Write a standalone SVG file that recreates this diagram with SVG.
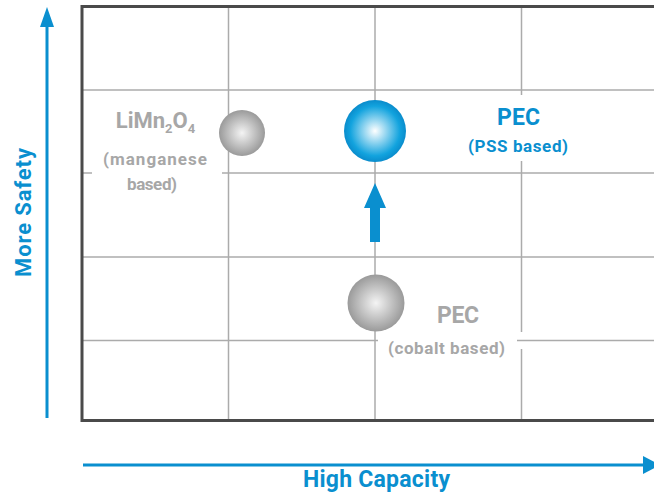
<svg xmlns="http://www.w3.org/2000/svg" width="654" height="493" viewBox="0 0 654 493">
<defs>
<radialGradient id="gray" cx="0.5" cy="0.5" r="0.5">
<stop offset="0" stop-color="#f4f4f4"/>
<stop offset="1" stop-color="#9a9a9a"/>
</radialGradient>
<radialGradient id="blue" cx="0.5" cy="0.5" r="0.5">
<stop offset="0" stop-color="#ffffff"/>
<stop offset="0.8" stop-color="#12a3de"/>
<stop offset="1" stop-color="#0a8ccc"/>
</radialGradient>
<style>
.grid{stroke:#ababab;stroke-width:1.5;fill:none}
.frame{stroke:#4a4a4a;stroke-width:3;fill:none}
.ax{stroke:#0a8fcf;stroke-width:3;fill:none}
.t{font-family:Roboto,"DejaVu Sans",sans-serif;font-weight:bold;text-anchor:middle}
.g{fill:#a7a7a7}
.b{fill:#0a8fcf}
</style>
</defs>
<rect width="654" height="493" fill="#ffffff"/>
<g id="grid">
<line class="grid" x1="228.5" y1="6.5" x2="228.5" y2="420.5"/>
<line class="grid" x1="375" y1="6.5" x2="375" y2="420.5"/>
<line class="grid" x1="521.5" y1="6.5" x2="521.5" y2="95"/>
<line class="grid" x1="521.5" y1="161" x2="521.5" y2="332"/>
<line class="grid" x1="521.5" y1="349" x2="521.5" y2="420.5"/>
<line class="grid" x1="82" y1="90" x2="654" y2="90"/>
<line class="grid" x1="82" y1="173" x2="92" y2="173"/>
<line class="grid" x1="222" y1="173" x2="654" y2="173"/>
<line class="grid" x1="82" y1="257" x2="654" y2="257"/>
<line class="grid" x1="82" y1="340.5" x2="378" y2="340.5"/>
<line class="grid" x1="517" y1="340.5" x2="654" y2="340.5"/>
<path class="frame" d="M660,6.5 H82 V420.5 H660"/>
</g>
<g id="connectors">
<line class="ax" x1="47" y1="418" x2="47" y2="24"/>
<polygon class="b" points="40,27 47,7 54,27"/>
<line class="ax" x1="83" y1="465" x2="646" y2="465"/>
<polygon class="b" points="643,456 660,465 643,474"/>
<polygon class="b" points="370,242 380,242 380,208 386,208 375,183 364,208 370,208"/>
</g>
<g id="node-limn">
<circle cx="242" cy="133" r="23" fill="url(#gray)"/>
<text class="t g" x="155.5" y="128" font-size="22">LiMn<tspan font-size="13" dy="5">2</tspan><tspan dy="-5">O</tspan><tspan font-size="13" dy="5">4</tspan></text>
<text class="t g" x="155" y="165" font-size="17" textLength="104" lengthAdjust="spacing">(manganese</text>
<text class="t g" x="152" y="190" font-size="17" textLength="50" lengthAdjust="spacing">based)</text>
</g>
<g id="node-pss">
<circle cx="375" cy="131" r="31" fill="url(#blue)"/>
<text class="t b" x="518.5" y="125" font-size="23" textLength="43" lengthAdjust="spacing">PEC</text>
<text class="t b" x="518" y="152" font-size="17" textLength="100" lengthAdjust="spacing">(PSS based)</text>
</g>
<g id="node-cobalt">
<circle cx="376" cy="303" r="28.5" fill="url(#gray)"/>
<text class="t g" x="458" y="323" font-size="23" textLength="42" lengthAdjust="spacing">PEC</text>
<text class="t g" x="446.5" y="354" font-size="17" textLength="117" lengthAdjust="spacing">(cobalt based)</text>
</g>
<g id="labels">
<text class="t b" transform="translate(31,212.5) rotate(-90)" font-size="22" textLength="129" lengthAdjust="spacing">More Safety</text>
<text class="t b" x="376.5" y="487" font-size="23" textLength="147" lengthAdjust="spacing">High Capacity</text>
</g>
</svg>
